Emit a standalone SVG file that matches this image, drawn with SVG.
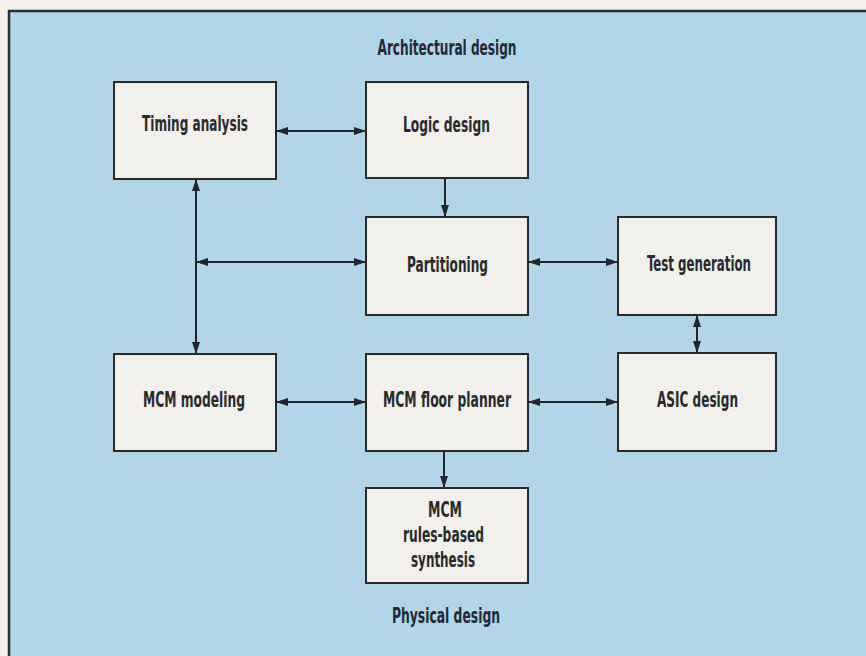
<svg xmlns="http://www.w3.org/2000/svg" width="866" height="656" viewBox="0 0 866 656">
  <defs>
    <marker id="arr" viewBox="0 0 12 8" refX="12" refY="4" markerWidth="12" markerHeight="8" markerUnits="userSpaceOnUse" orient="auto-start-reverse">
      <path d="M0,0 L12,4 L0,8 z" fill="#1f262d"/>
    </marker>
  </defs>
  <style>
    .box { fill: #f1f0ec; stroke: #262b30; stroke-width: 2; }
    .lbl { font-family: "Liberation Sans Narrow", "DejaVu Sans Condensed", "Liberation Sans", sans-serif; font-weight: bold; font-size: 20.5px; fill: #2a2a2a; text-anchor: middle; }
    .ttl { font-family: "Liberation Sans Narrow", "DejaVu Sans Condensed", "Liberation Sans", sans-serif; font-weight: bold; font-size: 20.5px; fill: #1e2a36; text-anchor: middle; }
    .con { fill: none; stroke: #1f262d; stroke-width: 2; }
  </style>
  <rect x="0" y="0" width="866" height="656" fill="#f2f0ea"/>
  <rect x="9" y="11" width="870" height="660" fill="#b2d5e8"/>
  <path d="M9,656 V11 H866" fill="none" stroke="#2a3036" stroke-width="2.5"/>

  <text class="ttl" x="447" y="55" textLength="139" lengthAdjust="spacingAndGlyphs">Architectural design</text>
  <text class="ttl" x="446" y="623" textLength="108" lengthAdjust="spacingAndGlyphs">Physical design</text>

  <g id="connectors">
    <path class="con" d="M276,131 H366" marker-start="url(#arr)" marker-end="url(#arr)"/>
    <path class="con" d="M445,178 V217" marker-end="url(#arr)"/>
    <path class="con" d="M196,179 V354" marker-start="url(#arr)" marker-end="url(#arr)"/>
    <path class="con" d="M196,262 H366" marker-start="url(#arr)" marker-end="url(#arr)"/>
    <path class="con" d="M528,262 H618" marker-start="url(#arr)" marker-end="url(#arr)"/>
    <path class="con" d="M697,315 V353" marker-start="url(#arr)" marker-end="url(#arr)"/>
    <path class="con" d="M276,402 H366" marker-start="url(#arr)" marker-end="url(#arr)"/>
    <path class="con" d="M528,402 H618" marker-start="url(#arr)" marker-end="url(#arr)"/>
    <path class="con" d="M444,451 V488" marker-end="url(#arr)"/>
  </g>

  <g id="timing">
    <rect class="box" x="114" y="82" width="162" height="97"/>
    <text class="lbl" x="195" y="131" textLength="106" lengthAdjust="spacingAndGlyphs">Timing analysis</text>
  </g>
  <g id="logic">
    <rect class="box" x="366" y="82" width="162" height="96"/>
    <text class="lbl" x="446.5" y="132" textLength="87" lengthAdjust="spacingAndGlyphs">Logic design</text>
  </g>
  <g id="partitioning">
    <rect class="box" x="366" y="217" width="162" height="98"/>
    <text class="lbl" x="447.5" y="272" textLength="81" lengthAdjust="spacingAndGlyphs">Partitioning</text>
  </g>
  <g id="testgen">
    <rect class="box" x="618" y="217" width="158" height="98"/>
    <text class="lbl" x="699" y="271" textLength="104" lengthAdjust="spacingAndGlyphs">Test generation</text>
  </g>
  <g id="mcmmodeling">
    <rect class="box" x="114" y="354" width="162" height="97"/>
    <text class="lbl" x="194" y="407" textLength="102" lengthAdjust="spacingAndGlyphs">MCM modeling</text>
  </g>
  <g id="floorplanner">
    <rect class="box" x="366" y="354" width="162" height="97"/>
    <text class="lbl" x="447" y="407" textLength="128" lengthAdjust="spacingAndGlyphs">MCM floor planner</text>
  </g>
  <g id="asic">
    <rect class="box" x="618" y="353" width="158" height="98"/>
    <text class="lbl" x="697.5" y="407" textLength="81" lengthAdjust="spacingAndGlyphs">ASIC design</text>
  </g>
  <g id="synthesis">
    <rect class="box" x="366" y="488" width="162" height="95"/>
    <text class="lbl" x="445" y="517" textLength="34" lengthAdjust="spacingAndGlyphs">MCM</text>
    <text class="lbl" x="443.5" y="542" textLength="81" lengthAdjust="spacingAndGlyphs">rules-based</text>
    <text class="lbl" x="443" y="567" textLength="64" lengthAdjust="spacingAndGlyphs">synthesis</text>
  </g>
</svg>
